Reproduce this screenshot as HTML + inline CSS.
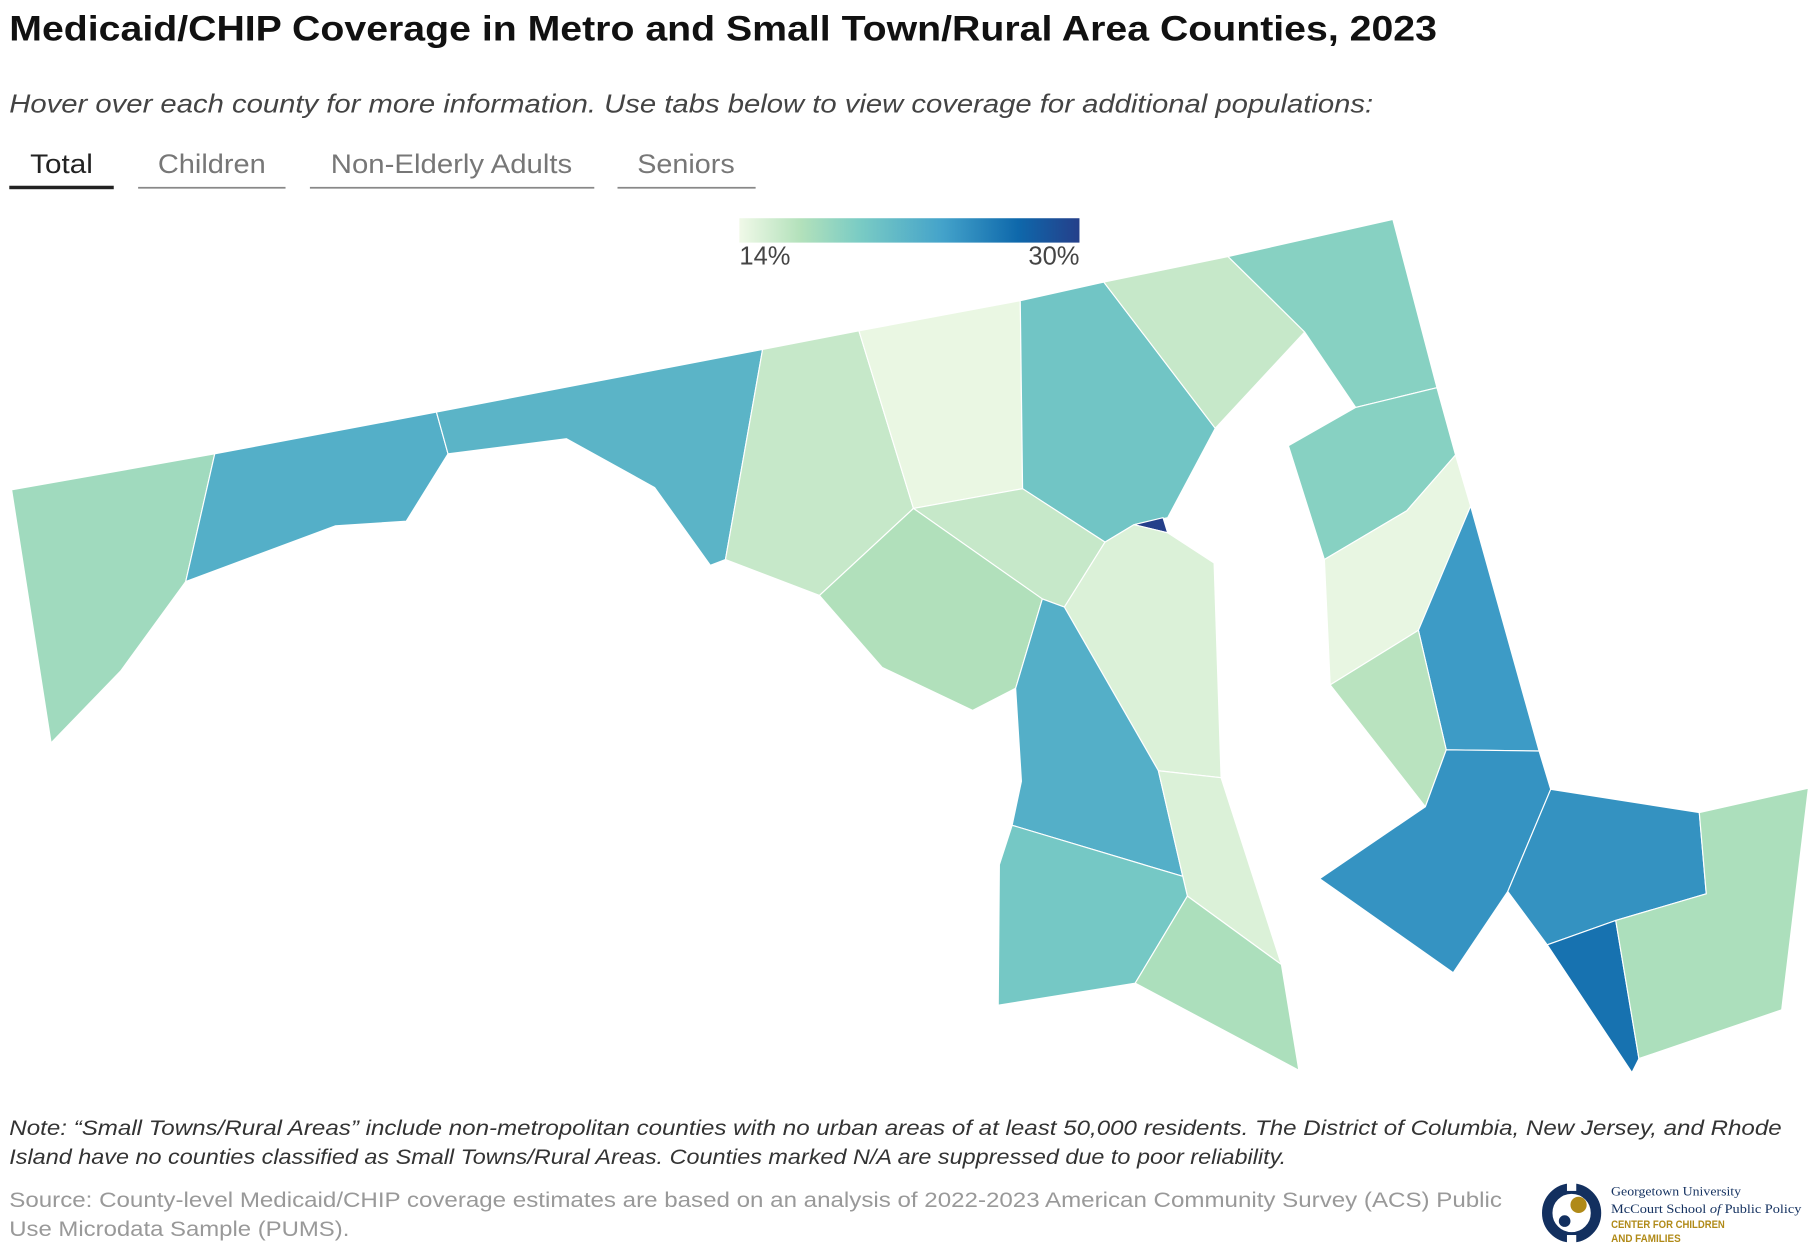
<!DOCTYPE html>
<html><head><meta charset="utf-8"><style>
html,body{margin:0;padding:0;background:#fff;}
svg{display:block;font-family:"Liberation Sans",Arial,sans-serif;}
</style></head><body>
<svg width="1820" height="1260" viewBox="0 0 1568 1085.5">
<defs>
<linearGradient id="lg" x1="0" x2="1" y1="0" y2="0">
<stop offset="0" stop-color="#f0f9e8"/><stop offset="0.18" stop-color="#b3e1bb"/><stop offset="0.35" stop-color="#7bccc4"/><stop offset="0.6" stop-color="#43a2ca"/><stop offset="0.82" stop-color="#0e68ab"/><stop offset="1" stop-color="#253f8a"/>
</linearGradient>
</defs>
<text x="8" y="35" font-size="30" font-weight="bold" fill="#111" textLength="1230" lengthAdjust="spacingAndGlyphs">Medicaid/CHIP Coverage in Metro and Small Town/Rural Area Counties, 2023</text>
<text x="8" y="97" font-size="22" font-style="italic" fill="#444" textLength="1175" lengthAdjust="spacingAndGlyphs">Hover over each county for more information. Use tabs below to view coverage for additional populations:</text>
<g>
<g><text x="26" y="149" font-size="23" fill="#222" textLength="54" lengthAdjust="spacingAndGlyphs">Total</text><rect x="8" y="160" width="90" height="3" fill="#222"/></g>
<g><text x="136" y="149" font-size="23" fill="#777" textLength="93" lengthAdjust="spacingAndGlyphs">Children</text><rect x="119" y="161" width="127" height="1.5" fill="#888"/></g>
<g><text x="285" y="149" font-size="23" fill="#777" textLength="208" lengthAdjust="spacingAndGlyphs">Non-Elderly Adults</text><rect x="267" y="161" width="245" height="1.5" fill="#888"/></g>
<g><text x="549" y="149" font-size="23" fill="#777" textLength="84" lengthAdjust="spacingAndGlyphs">Seniors</text><rect x="532" y="161" width="119" height="1.5" fill="#888"/></g>
</g>
<g>
<rect x="637" y="188" width="293" height="21" fill="url(#lg)"/>
<text id="lmin" x="637" y="228" font-size="22" fill="#444"></text>
<text id="lmax" x="930" y="228" font-size="22" fill="#444" text-anchor="end"></text>
</g>
<g id="map"></g>
<g font-size="18" font-style="italic" fill="#333"><text x="8" y="978" textLength="1527" lengthAdjust="spacingAndGlyphs">Note: “Small Towns/Rural Areas” include non-metropolitan counties with no urban areas of at least 50,000 residents. The District of Columbia, New Jersey, and Rhode</text><text x="8" y="1003" textLength="1100" lengthAdjust="spacingAndGlyphs">Island have no counties classified as Small Towns/Rural Areas. Counties marked N/A are suppressed due to poor reliability.</text></g>
<g font-size="18" fill="#999"><text x="8" y="1040" textLength="1286" lengthAdjust="spacingAndGlyphs">Source: County-level Medicaid/CHIP coverage estimates are based on an analysis of 2022-2023 American Community Survey (ACS) Public</text><text x="8" y="1065" textLength="293" lengthAdjust="spacingAndGlyphs">Use Microdata Sample (PUMS).</text></g>
<g>
<circle cx="1354" cy="1045" r="21" fill="none" stroke="#13305f" stroke-width="9"/>
<rect x="1350" y="1018" width="8" height="8" fill="#fff"/><rect x="1350" y="1064" width="8" height="8" fill="#fff"/>
<circle cx="1360" cy="1038" r="7" fill="#b08a18"/><circle cx="1348" cy="1052" r="5" fill="#13305f"/>
<text x="1388" y="1030" font-size="11" fill="#13305f" font-family="Liberation Serif,serif" textLength="112" lengthAdjust="spacingAndGlyphs">Georgetown University</text>
<text x="1388" y="1045" font-size="11" fill="#13305f" font-family="Liberation Serif,serif" textLength="164" lengthAdjust="spacingAndGlyphs">McCourt School <tspan font-style="italic">of</tspan> Public Policy</text>
<text x="1388" y="1058" font-size="9.5" fill="#b08a18" font-weight="bold" textLength="98" lengthAdjust="spacingAndGlyphs">CENTER FOR CHILDREN</text>
<text x="1388" y="1070" font-size="9.5" fill="#b08a18" font-weight="bold" textLength="60" lengthAdjust="spacingAndGlyphs">AND FAMILIES</text>
</g>
</svg>
<script>
const legendMin = 14, legendMax = 30;
const counties = ["Garrett","Allegany","Washington","Frederick","Carroll","Baltimore County","Harford","Cecil","Baltimore City","Howard","Montgomery","Anne Arundel","Prince George's","Calvert","Charles","St. Mary's","Kent","Queen Anne's","Caroline","Talbot","Dorchester","Wicomico","Somerset","Worcester"];
const coverage = [17.8,22.4,21.9,16.0,14.3,20.3,16.0,19.0,30,16.0,17.0,15.0,22.4,15.0,20.0,17.2,19.0,14.4,24.0,16.6,24.5,24.6,26.5,17.2];
const shapes = [
"10,422 185,391 160,501 104,578 44,640",
"185,391 376,355 386,391 350,449 289,453 160,501",
"376,355 657,301 625,482 612,487 564,420 488,378 386,391",
"657,301 740,285 787,438 706,513 625,482",
"740,285 879,259 881,421 787,438",
"879,259 951,243 1047,369 1006,446 977,452 952,467 881,421",
"951,243 1058,221 1124,286 1047,369",
"1058,221 1200,189 1238,334 1168,351 1124,286",
"977,452 1002,446 1006,459",
"787,438 881,421 952,467 917,523 898,516",
"706,513 787,438 898,516 875,593 838,612 760,575",
"952,467 977,452 1006,459 1046,485 1052,670 998,664 917,523",
"898,516 917,523 998,664 1019,755 872,711 880,673 875,593",
"998,664 1052,670 1104,831 1023,772 1019,755",
"872,711 1019,755 1023,772 978,847 860,866 861,745",
"1023,772 1104,831 1119,922 978,847",
"1110,384 1168,351 1238,334 1254,392 1212,440 1141,482",
"1141,482 1212,440 1254,392 1267,436 1222,543 1146,590",
"1222,543 1267,436 1326,647 1246,646",
"1146,590 1222,543 1246,646 1228,695",
"1137,757 1228,695 1246,646 1326,647 1336,680 1299,768 1252,838",
"1336,680 1464,700 1470,770 1392,793 1333,814 1299,768",
"1333,814 1392,793 1412,912 1406,924",
"1392,793 1470,770 1464,700 1558,679 1535,870 1412,912"];
const stops=[[0,[240,249,232]],[0.18,[179,225,187]],[0.35,[123,204,196]],[0.6,[67,162,202]],[0.82,[14,104,171]],[1,[37,63,138]]];
function colorScale(v){let t=Math.max(0,Math.min(1,(v-legendMin)/(legendMax-legendMin)));
for(let i=1;i<stops.length;i++){if(t<=stops[i][0]){const a=stops[i-1],b=stops[i],f=(t-a[0])/(b[0]-a[0]);
return "rgb("+a[1].map((c,k)=>Math.round(c+(b[1][k]-c)*f)).join(",")+")";}}return "rgb(37,63,138)";}
document.getElementById('lmin').textContent=legendMin+"%";
document.getElementById('lmax').textContent=legendMax+"%";
const g=document.getElementById('map');
counties.forEach((c,i)=>{
const p=document.createElementNS("http://www.w3.org/2000/svg","polygon");
p.setAttribute('points',shapes[i]);
p.setAttribute('fill',colorScale(coverage[i]));
p.setAttribute('stroke','#fff');p.setAttribute('stroke-width','1');


const t=document.createElementNS("http://www.w3.org/2000/svg","title");t.textContent=c+": "+coverage[i]+"%";p.appendChild(t);
g.appendChild(p);});
</script>
</body></html>
